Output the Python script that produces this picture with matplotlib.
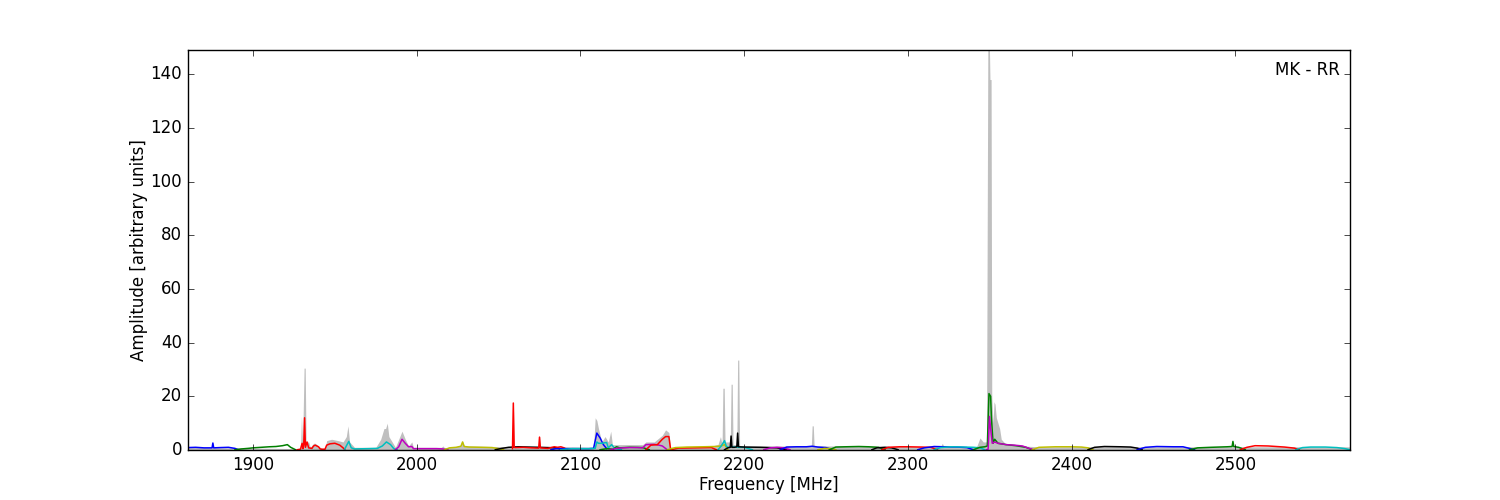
import numpy as np
import matplotlib
matplotlib.use('Agg')
import matplotlib.pyplot as plt

# colour of each sub-band trace (old matplotlib cycle)
band_colors = ['b', 'g', 'r', 'c', 'm', 'y', 'k', 'r', 'b', 'c', 'g', 'm', 'r', 'r', 'y',
               'c', 'k', 'm', 'b', 'y', 'g', 'k', 'r', 'b', 'c', 'g', 'm', 'y', 'k',
               'b', 'g', 'r', 'c']

# frequency points [MHz] of each sub-band
band_freqs = [
    [1860, 1865, 1870, 1875, 1875.5, 1876, 1880, 1885, 1889, 1891],
    [1889, 1893, 1897, 1900, 1905, 1910, 1914, 1918, 1921, 1923, 1926],
    [1927, 1929, 1930, 1930.5, 1931, 1931.5, 1932, 1933, 1934, 1936, 1937, 1938, 1940, 1941,
     1942, 1944, 1945, 1947, 1950, 1953, 1955, 1956],
    [1956, 1957, 1958.5, 1960, 1962, 1970, 1976, 1979, 1981.5, 1984, 1986, 1988],
    [1987, 1989, 1991, 1993, 1995, 1997, 1998, 2000, 2005, 2012, 2016, 2019],
    [2017, 2020, 2024, 2027, 2028, 2029, 2032, 2040, 2046, 2050, 2053],
    [2048, 2052, 2056, 2062, 2068, 2075, 2085, 2090],
    [2058.5, 2059, 2059.5, 2060, 2065, 2070, 2074.5, 2075, 2075.5, 2080, 2084, 2086, 2088,
     2090, 2092],
    [2082, 2085, 2090, 2095, 2100, 2105, 2108, 2110, 2112, 2114, 2116],
    [2088, 2095, 2105, 2109, 2110, 2111, 2113, 2116, 2117, 2119, 2121, 2125],
    [2112, 2116, 2120, 2122, 2124, 2130, 2138, 2142],
    [2118, 2122, 2126, 2130, 2135, 2138, 2140, 2145, 2148, 2150, 2153],
    [2140, 2143, 2147, 2150, 2152, 2154, 2155, 2156],
    [2155, 2160, 2170, 2180, 2183],
    [2153, 2158, 2165, 2175, 2182, 2186, 2188, 2190],
    [2184, 2186, 2188, 2189, 2190, 2193, 2196, 2200, 2205],
    [2188, 2190, 2191.5, 2192, 2192.5, 2194, 2195.5, 2196, 2196.5, 2200, 2210, 2220, 2226],
    [2212, 2216, 2220, 2224, 2228],
    [2222, 2226, 2232, 2238, 2241.5, 2245, 2250, 2254],
    [2245, 2249, 2253, 2256],
    [2252, 2256, 2262, 2270, 2276, 2282, 2286],
    [2278, 2281, 2286, 2290, 2294],
    [2284, 2288, 2295, 2300, 2308, 2314, 2318],
    [2306, 2310, 2316, 2322, 2330, 2336, 2340],
    [2316, 2320, 2326, 2334, 2340, 2344, 2347],
    [2340, 2344, 2347, 2348.5, 2349.5, 2350.5, 2351, 2352, 2353, 2355, 2360, 2366, 2372, 2376],
    [2348, 2349, 2349.8, 2350.5, 2351.5, 2353, 2355, 2360, 2365, 2370, 2374, 2377],
    [2376, 2380, 2390, 2400, 2406, 2410, 2413],
    [2410, 2414, 2420, 2430, 2436, 2440, 2443],
    [2440, 2445, 2452, 2462, 2468, 2472, 2475],
    [2472, 2477, 2485, 2495, 2498, 2498.5, 2499, 2502, 2506],
    [2503, 2507, 2512, 2520, 2530, 2536, 2539],
    [2537, 2541, 2546, 2555, 2562, 2567, 2570],
]

# amplitudes of each sub-band
band_amps = [
    [0.9, 1.0, 0.8, 0.8, 2.6, 0.8, 0.9, 1.0, 0.6, 0.1],
    [0.1, 0.4, 0.6, 0.8, 1.0, 1.2, 1.3, 1.6, 2.0, 1.0, 0.1],
    [0.1, 0.3, 2.5, 0.5, 2.0, 12, 1.0, 3.0, 0.8, 0.6, 1.5, 1.8, 1.2, 0.4,
     0.3, 0.3, 1.8, 2.3, 2.5, 1.8, 0.8, 0.2],
    [0.3, 1.5, 3.2, 0.8, 0.4, 0.5, 0.6, 1.5, 3.0, 2.0, 0.5, 0.1],
    [0.1, 1.2, 4.0, 2.5, 1.2, 1.3, 0.5, 0.5, 0.5, 0.5, 0.4, 0.1],
    [0.1, 0.8, 1.0, 1.4, 3.0, 1.3, 1.1, 1.0, 0.9, 0.5, 0.1],
    [0.1, 0.6, 1.0, 1.2, 1.1, 1.0, 0.8, 0.1],
    [0.5, 17.5, 1.0, 0.9, 1.0, 0.8, 0.7, 4.8, 0.8, 0.6, 1.2, 1.0, 1.2, 0.8, 0.1],
    [0.1, 0.5, 0.5, 0.5, 0.5, 0.5, 0.6, 6.3, 4.5, 2.0, 0.5],
    [0.1, 0.5, 0.5, 0.6, 3.0, 2.5, 2.5, 2.8, 0.8, 2.0, 0.5, 0.1],
    [0.1, 0.5, 0.3, 1.2, 0.8, 1.0, 0.9, 0.1],
    [0.1, 0.6, 0.8, 0.9, 0.9, 0.8, 2.0, 2.1, 1.8, 1.5, 0.1],
    [0.1, 1.8, 2.0, 4.0, 5.0, 5.0, 0.5, 0.1],
    [0.1, 0.7, 0.8, 0.9, 0.1],
    [0.1, 0.9, 1.1, 1.2, 1.3, 1.5, 2.0, 0.1],
    [0.1, 1.5, 3.5, 1.5, 1.0, 1.2, 1.0, 1.0, 0.1],
    [0.1, 0.8, 1.0, 5.2, 1.0, 1.0, 1.2, 6.3, 1.2, 1.1, 1.0, 0.8, 0.1],
    [0.1, 0.8, 1.0, 0.8, 0.1],
    [0.1, 1.1, 1.2, 1.2, 1.4, 1.1, 0.9, 0.1],
    [0.1, 0.6, 0.5, 0.1],
    [0.1, 1.1, 1.2, 1.3, 1.2, 1.0, 0.1],
    [0.1, 0.8, 1.0, 0.8, 0.1],
    [0.1, 1.0, 1.2, 1.2, 1.1, 1.0, 0.1],
    [0.1, 0.8, 1.3, 1.2, 1.1, 0.9, 0.1],
    [0.1, 0.9, 1.2, 1.1, 1.0, 0.8, 0.1],
    [0.1, 1.0, 1.2, 1.5, 21, 20, 12, 2.5, 4.0, 2.5, 2.0, 1.6, 1.0, 0.1],
    [0.1, 0.3, 12.5, 8, 2.5, 3.0, 2.5, 2.0, 1.8, 1.5, 0.6, 0.1],
    [0.1, 1.0, 1.2, 1.2, 1.1, 0.8, 0.1],
    [0.1, 1.0, 1.3, 1.2, 1.1, 0.7, 0.1],
    [0.1, 1.0, 1.3, 1.2, 1.2, 0.6, 0.1],
    [0.1, 0.8, 1.0, 1.2, 1.3, 3.2, 1.3, 1.0, 0.1],
    [0.1, 1.0, 1.6, 1.5, 1.1, 0.7, 0.1],
    [0.1, 0.9, 1.1, 1.1, 0.9, 0.5, 0.1],
]

# max-hold envelope (grey)
env_freq = [1860, 1929, 1929.6, 1930.3, 1931.2, 1931.9, 1932.4, 1934, 1935, 1937, 1938, 1940,
            1942, 1944, 1945, 1948, 1952, 1955, 1957, 1958, 1959, 1962, 1975, 1978, 1980,
            1981, 1982, 1983, 1985, 1987, 1989, 1991, 1993, 1995, 1997, 1998, 2010, 2015,
            2016, 2017, 2027, 2028, 2029, 2058.5, 2059, 2059.5, 2074.5, 2075, 2075.5, 2090,
            2108, 2109, 2110, 2111, 2113, 2115, 2117, 2118.5, 2119.5, 2122, 2130, 2138, 2140,
            2145, 2150, 2152, 2154, 2155, 2180, 2184, 2185.5, 2186.5, 2187, 2187.8, 2188.3,
            2191.5, 2192, 2192.7, 2193.2, 2195.5, 2196, 2196.7, 2197.2, 2241, 2241.5, 2242.2,
            2242.7, 2260, 2300, 2320, 2321, 2322, 2342, 2344, 2346, 2348, 2348.8, 2349.8,
            2350.1, 2350.8, 2351.2, 2352, 2352.6, 2353.2, 2354, 2355, 2356, 2357, 2360, 2370,
            2380, 2570]
env_amp = [1.0, 0.5, 12.5, 2, 30.5, 30.5, 3, 3, 1, 2.5, 2.5, 1.5,
           0.5, 0.5, 3.5, 4.0, 3.5, 3, 5, 9, 3, 1, 1, 4, 8,
           8, 10, 5, 3, 1, 4, 7, 4, 1.5, 3, 1, 1, 1,
           1.5, 0.8, 1.5, 3.3, 1.5, 1.2, 18, 1.5, 1.2, 5.2, 1.2, 1.2,
           1, 12, 11, 8, 3, 5, 3, 7, 2, 2, 2, 2, 3,
           3, 5.5, 7.5, 6.5, 1, 1.5, 2, 5, 2, 23, 23, 3,
           3, 24.5, 24.5, 2, 2, 33.5, 33.5, 1.5, 1.5, 9, 9,
           1.5, 1.5, 1.3, 1.3, 2.5, 1.3, 1.3, 4.5, 3, 3, 149, 149,
           138, 138, 20, 10, 18, 17, 12, 10, 8, 4, 2, 1.5,
           1.2, 1.2]

plt.style.use('classic')
fig = plt.figure(figsize=(15, 5), dpi=100, facecolor='white')
ax = fig.add_subplot(111)

ax.fill_between(env_freq, 0, env_amp, color='0.75', linewidth=0)
for c, f, a in zip(band_colors, band_freqs, band_amps):
    ax.plot(f, a, color=c, lw=1.1)

ax.set_xlim(1860, 2570)
ax.set_ylim(0, max(env_amp))
ax.set_xticks(np.arange(1900, 2501, 100))
ax.set_yticks(np.arange(0, 141, 20))
ax.set_xlabel('Frequency [MHz]', labelpad=1.5)
ax.set_ylabel('Amplitude [arbitrary units]', labelpad=1.5)
ax.text(0.991, 0.95, 'MK - RR', ha='right', va='center', transform=ax.transAxes)

fig.savefig('out.png', dpi=100, facecolor='white')
